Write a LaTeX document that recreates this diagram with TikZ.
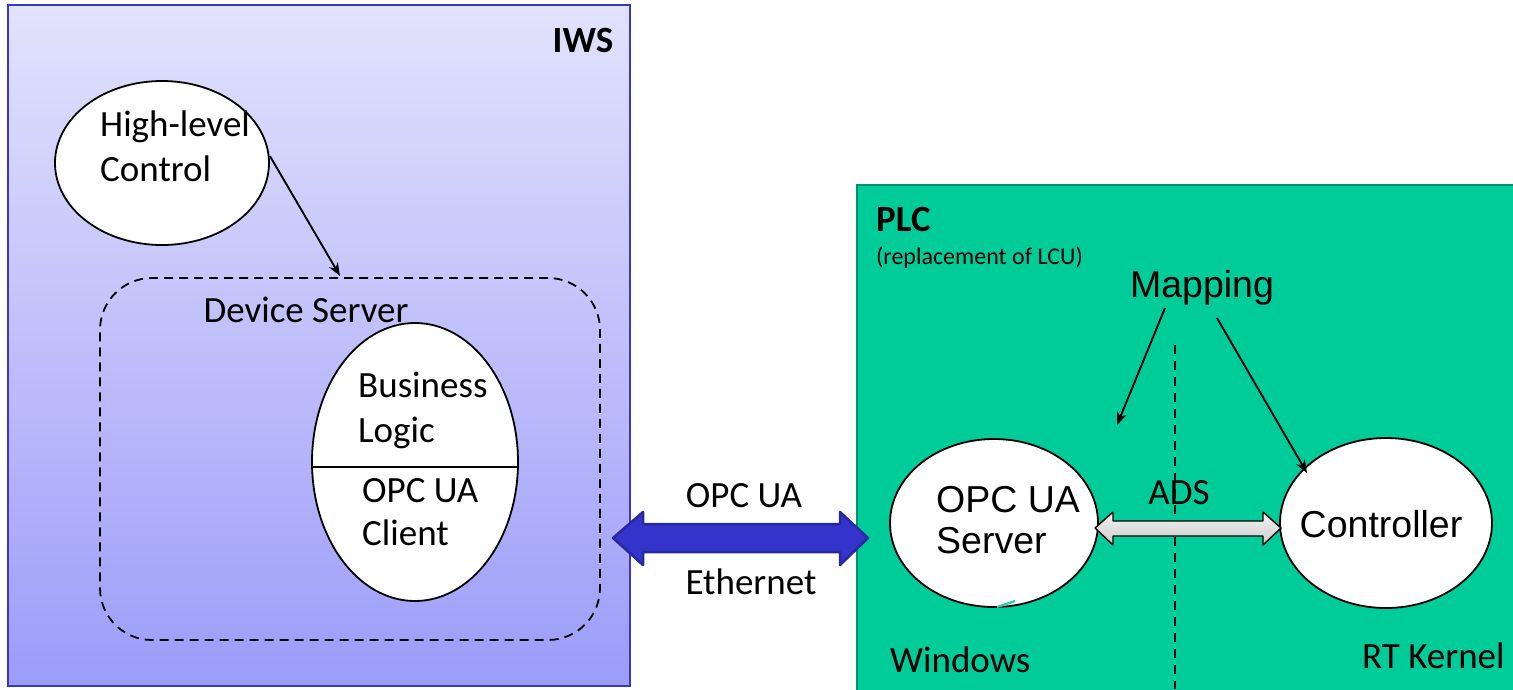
\documentclass[tikz,border=0pt]{standalone}
\usepackage{fontspec}
\setmainfont{Carlito}
\newfontfamily\arialf{Liberation Sans}
\usetikzlibrary{arrows.meta,shapes.geometric}
\definecolor{iwstop}{RGB}{226,226,252}
\definecolor{iwsbot}{RGB}{156,156,250}
\definecolor{iwsborder}{RGB}{56,56,196}
\definecolor{plcfill}{RGB}{0,204,153}
\definecolor{plcborder}{RGB}{0,146,108}
\definecolor{netfill}{RGB}{52,52,204}
\definecolor{netborder}{RGB}{40,40,160}
\definecolor{tealmark}{RGB}{40,200,170}
\tikzset{
  ell/.style={ellipse, draw=black, line width=1.8pt, fill=white, inner sep=0pt},
  conn/.style={-{Stealth[length=13pt,width=10pt]}, line width=1.9pt},
  lbl/.style={inner sep=0pt, anchor=base},
  cal/.style={font=\fontsize{37}{45}\selectfont},
  ari/.style={font=\arialf\fontsize{37.5}{41}\selectfont},
}
\begin{document}
\begin{tikzpicture}[x=1pt,y=-1pt]
\useasboundingbox (0,0) rectangle (1513,689);
\fill[white] (0,0) rectangle (1513,689);
% IWS box
\shade[top color=iwstop, bottom color=iwsbot] (8,5) rectangle (630,686);
\draw[iwsborder, line width=1.6pt] (8,5) rectangle (630,686);
\node[lbl, font=\bfseries\fontsize{37}{40}\selectfont] (iws) at (583,52) {IWS};
% PLC box
\fill[plcfill] (857,185) rectangle (1520,700);
\draw[plcborder, line width=2.2pt] (1520,185) -- (857,185) -- (857,700);
\node[lbl, anchor=base west, font=\bfseries\fontsize{37}{40}\selectfont] (plc) at (876,231) {PLC};
\node[lbl, anchor=base west, font=\fontsize{24}{26}\selectfont] (repl) at (876,264) {(replacement of LCU)};
% High-level control
\node[ell, minimum width=214pt, minimum height=164pt] (hlc) at (162,163) {};
\node[lbl, anchor=base west, cal] (hlct1) at (100,136) {High-level};
\node[lbl, anchor=base west, cal] (hlct2) at (100,181) {Control};
% Device server
\node[draw, line width=1.8pt, dash pattern=on 9pt off 6pt, rounded corners=52pt, minimum width=500pt, minimum height=362pt] (ds) at (350,459) {};
\node[lbl, cal] (dst) at (306,322) {Device Server};
\draw[conn] (hlc.east |- 0,156) -- (340,276);
% Business logic ellipse
\node[ell, minimum width=206pt, minimum height=278pt] (bl) at (415,462) {};
\draw[line width=1.8pt] (bl.west |- 0,467) -- (bl.east |- 0,467);
\node[lbl, anchor=base west, cal] (blt1) at (358,397) {Business};
\node[lbl, anchor=base west, cal] (blt2) at (358,442) {Logic};
\node[lbl, anchor=base west, cal] (oct1) at (362,502) {OPC UA};
\node[lbl, anchor=base west, cal] (oct2) at (362,545) {Client};
% Network arrow
\coordinate (nl) at (613,538);
\coordinate (nr) at (868,538);
\filldraw[fill=netfill, draw=netborder, line width=2.5pt, line join=round]
  (nl) -- (643,512) -- (643,524) -- (840,524) -- (840,512) -- (nr) -- (840,565) -- (840,552) -- (643,552) -- (643,565) -- cycle;
\node[lbl, cal] (opcua) at (744,507) {OPC UA};
\node[lbl, cal] (eth) at (751,594) {Ethernet};
% PLC internals
\draw[line width=1.9pt, dash pattern=on 9pt off 7pt] (1175,345) -- (1175,689);
\node[lbl, ari] (map) at (1202,297) {Mapping};
\node[ell, minimum width=208pt, minimum height=168pt] (srv) at (994,523) {};
\node[lbl, anchor=base west, ari] (srvt1) at (936,512) {OPC UA};
\node[lbl, anchor=base west, ari] (srvt2) at (936,553) {Server};
\node[ell, minimum width=212pt, minimum height=170pt] (ctl) at (1386,523) {};
\node[lbl, ari] (ctlt) at (1381,537) {Controller};
\draw[conn] (1165,308) -- (1117,425);
\draw[conn] (1217,318) -- (1307,473);
% ADS arrow
\coordinate (al) at (1095,528);
\coordinate (ar) at (1281,528);
\shade[top color=gray!10, bottom color=gray!40]
  (al) -- (1113,512) -- (1113,521) -- (1263,521) -- (1263,512) -- (ar) -- (1263,545) -- (1263,536) -- (1113,536) -- (1113,545) -- cycle;
\draw[black, line width=1.4pt, line join=round]
  (al) -- (1113,512) -- (1113,521) -- (1263,521) -- (1263,512) -- (ar) -- (1263,545) -- (1263,536) -- (1113,536) -- (1113,545) -- cycle;
\node[lbl, cal] (ads) at (1179,504) {ADS};
\draw[tealmark, line width=2.2pt] (997,607) -- (1015,601);
\node[lbl, anchor=base west, cal] (win) at (890,672) {Windows};
\node[lbl, anchor=base west, cal] (rtk) at (1362,668) {RT Kernel};
\end{tikzpicture}
\end{document}
